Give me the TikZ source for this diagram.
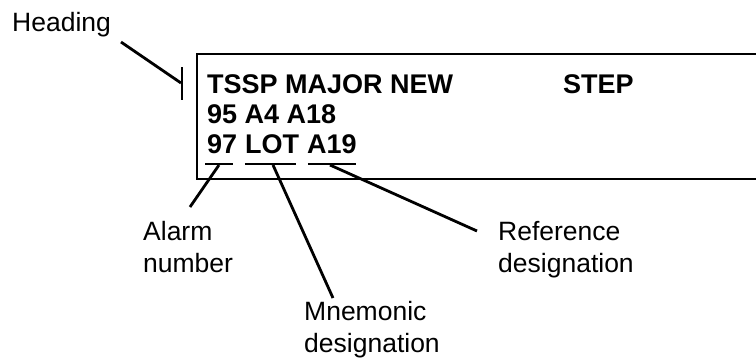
\documentclass[tikz,border=0pt]{standalone}
\usepackage{fontspec}
\setmainfont{Liberation Sans}
\usetikzlibrary{positioning}

\begin{document}
\begin{tikzpicture}[x=1pt, y=-1pt,
    lead/.style={line width=2.8pt},
    screen/.style={font=\fontsize{27}{30}\selectfont\bfseries, anchor=base west, inner sep=0pt},
    callout/.style={font=\fontsize{26.5}{31.5}\selectfont, align=left, anchor=base west, inner sep=0pt}]
    \useasboundingbox (0,0) rectangle (756,360);

    % display frame, runs off to the right
    \draw[line width=2.8pt] (770,54) -- (197,54) -- (197,179) -- (770,179);

    % screen text
    \node[screen] (row1) at (207,93) {TSSP MAJOR NEW};
    \node[screen] (step) at (563,93) {STEP};
    \node[screen] (row2) at (207,123) {95 A4 A18};
    \node[screen] (num) at (207,153) {97};
    \node[screen, base right=7.5pt of num] (mnem) {LOT};
    \node[screen, base right=7.5pt of mnem] (ref) {A19};

    % marks under the fields
    \draw[lead] ([xshift=-2pt,yshift=-11pt]num.base west) -- ([xshift=-4pt,yshift=-11pt]num.base east);
    \draw[lead] ([yshift=-11pt]mnem.base west) -- ([xshift=-3pt,yshift=-11pt]mnem.base east);
    \draw[lead] ([xshift=1pt,yshift=-11pt]ref.base west) -- ([xshift=-1pt,yshift=-11pt]ref.base east);

    % callouts (base = last line)
    \node[callout] (heading) at (12,31) {Heading};
    \node[callout] (alarmlbl) at (143,272) {Alarm\\number};
    \node[callout] (mnemlbl) at (304,352) {Mnemonic\\designation};
    \node[callout] (reflbl) at (498,272) {Reference\\designation};

    \coordinate (hd1) at (121,42);
    \coordinate (hd2) at (181,83);
    \coordinate (al1) at (219,165);
    \coordinate (al2) at (190,207);
    \coordinate (mn1) at (273,165);
    \coordinate (mn2) at (333,298);
    \coordinate (rf1) at (330,165);
    \coordinate (rf2) at (477,231);

    \draw[lead] (hd1) -- (hd2);
    \draw[lead] (182,67) -- (182,100);
    \draw[lead] (al1) -- (al2);
    \draw[lead] (mn1) -- (mn2);
    \draw[lead] (rf1) -- (rf2);
\end{tikzpicture}
\end{document}
